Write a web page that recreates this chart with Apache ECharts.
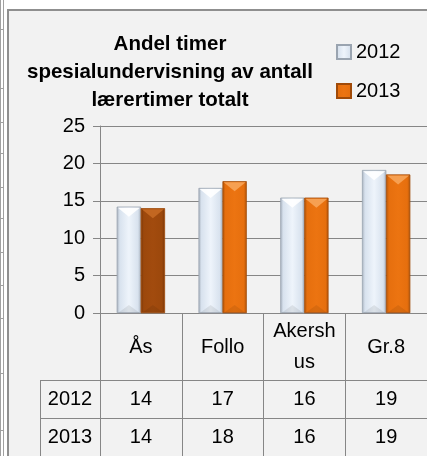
<!DOCTYPE html>
<html>
<head>
<meta charset="utf-8">
<script src="https://cdn.jsdelivr.net/npm/echarts@6/dist/echarts.min.js"></script>
<style>
html,body{margin:0;padding:0;background:#ffffff;}
#c{width:427px;height:456px;}
</style>
</head>
<body>
<div id="c"></div>
<script>
var categories = ['Ås', 'Follo', 'Akershus', 'Gr.8'];
var seriesNames = ['2012', '2013'];
var values2012 = [14.2, 16.7, 15.4, 19.1];
var values2013 = [14.0, 17.6, 15.4, 18.5];
var table2012 = ['14', '17', '16', '19'];
var table2013 = ['14', '18', '16', '19'];

var FONT = 'Liberation Sans';
var BAR_W = 24;
var grad = echarts.graphic.LinearGradient;
function hGrad(edge, mid, centre) {
  return new grad(0, 0, 1, 0, [
    {offset: 0, color: edge}, {offset: 0.12, color: mid},
    {offset: 0.5, color: centre}, {offset: 0.88, color: mid},
    {offset: 1, color: edge}]);
}
var blueFill = hGrad('#A9B3BF', '#D8E2EE', '#EEF4FB');
var orangeFill = hGrad('#B4560A', '#E66F0E', '#EC7411');
var brownFill = hGrad('#7A3608', '#9C480C', '#A24B0E');
var bevelTop = [['#FFFFFF', '#FFFFFF'], ['#F7A55A', '#C76A24']];

var chart = echarts.init(document.getElementById('c'), null, {renderer: 'canvas'});

var data2013 = values2013.map(function (v, i) {
  return i === 0 ? {value: v, itemStyle: {color: brownFill}} : v;
});

function bevelSeries(values, k) {
  return {
    name: 'bevel' + k, type: 'custom', z: 3, silent: true,
    data: values.map(function (v, i) { return [i, v]; }),
    renderItem: function (params, api) {
      var i = api.value(0);
      var p = api.coord([i, api.value(1)]);
      var base = api.coord([i, 0]);
      var x0 = p[0] - BAR_W + k * BAR_W, x1 = x0 + BAR_W, cx = x0 + BAR_W / 2;
      var top = p[1], bot = base[1];
      var hl = bevelTop[k][(k === 1 && i === 0) ? 1 : 0];
      return {type: 'group', children: [
        {type: 'polygon', shape: {points: [[x0 + 1, top + 1], [x1 - 1, top + 1], [cx, top + 10]]},
         style: {fill: hl, opacity: 0.9}},
        {type: 'polygon', shape: {points: [[x0 + 1, bot], [x1 - 1, bot], [cx, bot - 8]]},
         style: {fill: '#000000', opacity: 0.08}}
      ]};
    }
  };
}

var option = {
  backgroundColor: '#ffffff',
  animation: false,
  legend: {
    orient: 'vertical',
    left: 331, top: 37,
    itemWidth: 14, itemHeight: 14, itemGap: 19,
    icon: 'rect',
    textStyle: {fontFamily: FONT, fontSize: 20, color: '#000'},
    data: seriesNames
  },
  grid: {left: 100, top: 126, width: 329.2, height: 187, containLabel: false},
  xAxis: {
    type: 'category',
    data: categories,
    axisLine: {lineStyle: {color: '#868686', width: 1}},
    axisTick: {show: true, length: 150, lineStyle: {color: '#868686', width: 1}},
    axisLabel: {
      fontFamily: FONT, fontSize: 20, color: '#000',
      margin: 34, verticalAlign: 'middle', lineHeight: 31,
      width: 70, overflow: 'breakAll', interval: 0
    }
  },
  yAxis: {
    type: 'value', min: 0, max: 25, interval: 5,
    axisLine: {show: true, lineStyle: {color: '#868686', width: 1}},
    axisTick: {show: true, length: 7, lineStyle: {color: '#868686'}},
    axisLabel: {fontFamily: FONT, fontSize: 20, color: '#000', margin: 15},
    splitLine: {lineStyle: {color: '#868686', width: 1}}
  },
  series: [
    {name: seriesNames[0], type: 'bar', barWidth: BAR_W, barGap: '0%',
     itemStyle: {color: blueFill, borderColor: '#9AA4B0', borderWidth: 0.5},
     data: values2012},
    {name: seriesNames[1], type: 'bar', barWidth: BAR_W, barGap: '0%',
     itemStyle: {color: orangeFill, borderColor: '#A04A08', borderWidth: 0.5},
     data: data2013},
    bevelSeries(values2012, 0),
    bevelSeries(values2013, 1)
  ]
};
chart.setOption(option);

var y0 = chart.convertToPixel({yAxisIndex: 0}, 0);
var xs = categories.map(function (c) { return chart.convertToPixel({xAxisIndex: 0}, c); });
var leftX = xs[0] - (xs[1] - xs[0]) / 2;
var row1 = y0 + 67, row2 = row1 + 38, row3 = row2 + 38;
var headL = 40;

var g = [];
g.push({type: 'rect', z: -10, shape: {x: 8, y: 10, width: 440, height: 470},
  style: {fill: '#F2F2F2', stroke: '#8F8F8F', lineWidth: 2}});
g.push({type: 'line', z: -10, shape: {x1: 0.5, y1: 0, x2: 0.5, y2: 456}, style: {stroke: '#A0A0A0', lineWidth: 1}});
g.push({type: 'line', z: -10, shape: {x1: 3.5, y1: 0, x2: 3.5, y2: 456}, style: {stroke: '#A0A0A0', lineWidth: 1}});
[29, 88, 122, 153, 187, 218, 252, 285, 318, 373, 430].forEach(function (yy) {
  g.push({type: 'line', z: -10, shape: {x1: 0, y1: yy + 0.5, x2: 4, y2: yy + 0.5}, style: {stroke: '#A0A0A0', lineWidth: 1}});
});
g.push({type: 'text', z: 10, x: 170, y: 30, style: {
  text: 'Andel timer\nspesialundervisning av antall\nlærertimer totalt',
  font: 'bold 20.5px "' + FONT + '"', fill: '#000', textAlign: 'center', lineHeight: 28}});
[row1, row2].forEach(function (yy) {
  g.push({type: 'line', z: 5, shape: {x1: headL, y1: yy + 0.5, x2: 440, y2: yy + 0.5}, style: {stroke: '#868686', lineWidth: 1}});
});
g.push({type: 'line', z: 5, shape: {x1: headL + 0.5, y1: row1, x2: headL + 0.5, y2: 470}, style: {stroke: '#868686', lineWidth: 1}});
var rows = [[seriesNames[0], table2012, (row1 + row2) / 2], [seriesNames[1], table2013, (row2 + row3) / 2]];
rows.forEach(function (r) {
  g.push({type: 'text', z: 6, x: (headL + leftX) / 2, y: r[2], style: {
    text: r[0], font: '20px "' + FONT + '"', fill: '#000', textAlign: 'center', textVerticalAlign: 'middle'}});
  r[1].forEach(function (t, i) {
    g.push({type: 'text', z: 6, x: xs[i], y: r[2], style: {
      text: t, font: '20px "' + FONT + '"', fill: '#000', textAlign: 'center', textVerticalAlign: 'middle'}});
  });
});
chart.setOption({graphic: g});
</script>
</body>
</html>
